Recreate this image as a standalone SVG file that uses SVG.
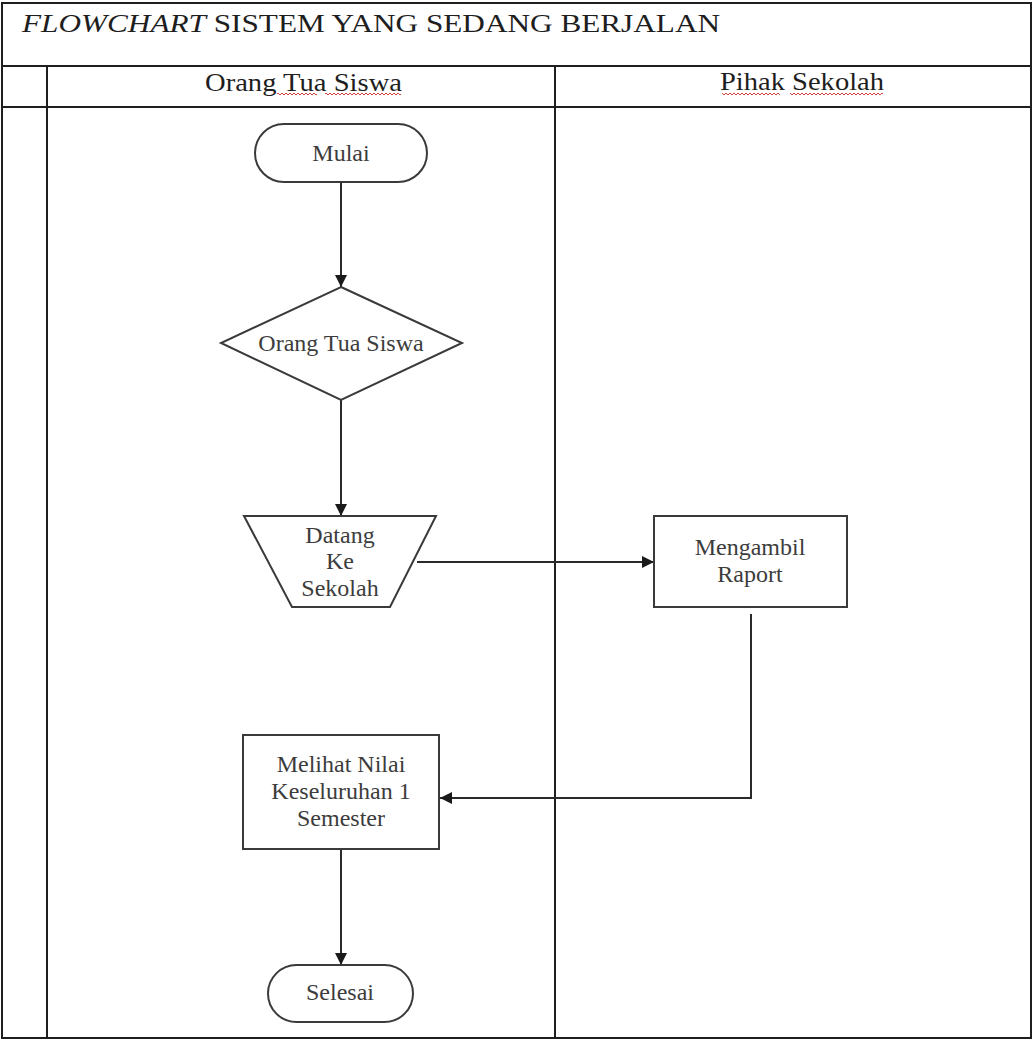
<svg xmlns="http://www.w3.org/2000/svg" width="1034" height="1041" viewBox="0 0 1034 1041">
  <style>
    .grid { stroke: #1e1e1e; stroke-width: 2; fill: none; }
    .shape { fill: #ffffff; stroke: #3a3a3a; stroke-width: 2; }
    .conn { fill: none; stroke: #2a2a2a; stroke-width: 2; }
    .hdr { font-family: "Liberation Serif", "Times New Roman", serif; font-size: 26px; fill: #1e1e1e; }
    .lbl { font-family: "Liberation Serif", "Times New Roman", serif; font-size: 24px; fill: #3c3c3c; text-anchor: middle; }
  </style>
  <defs>
    <marker id="arrow" viewBox="0 0 10 10" refX="10" refY="5" markerWidth="13" markerHeight="12" markerUnits="userSpaceOnUse" orient="auto">
      <path d="M0,0 L10,5 L0,10 Z" fill="#1a1a1a"/>
    </marker>
    <pattern id="squig" width="4" height="4" patternUnits="userSpaceOnUse">
      <path d="M0,3 L2,1 L4,3" fill="none" stroke="#d04040" stroke-width="1"/>
    </pattern>
  </defs>
  <rect x="0" y="0" width="1034" height="1041" fill="#ffffff"/>

  <g id="table">
    <rect class="grid" x="2" y="3" width="1029" height="1035"/>
    <line class="grid" x1="2" y1="66" x2="1031" y2="66"/>
    <line class="grid" x1="2" y1="107" x2="1031" y2="107"/>
    <line class="grid" x1="47" y1="66" x2="47" y2="1038"/>
    <line class="grid" x1="555" y1="66" x2="555" y2="1038"/>
    <text class="hdr" x="22" y="32" font-size="30" textLength="698" lengthAdjust="spacingAndGlyphs"><tspan font-style="italic">FLOWCHART</tspan> SISTEM YANG SEDANG BERJALAN</text>
    <text class="hdr" x="205" y="91" textLength="197" lengthAdjust="spacingAndGlyphs">Orang Tua Siswa</text>
    <text class="hdr" x="720" y="90" textLength="164" lengthAdjust="spacingAndGlyphs">Pihak Sekolah</text>
    <rect x="277" y="93" width="40" height="4" fill="url(#squig)"/>
    <rect x="325" y="93" width="76" height="4" fill="url(#squig)"/>
    <rect x="722" y="92" width="58" height="4" fill="url(#squig)"/>
    <rect x="790" y="92" width="93" height="4" fill="url(#squig)"/>
  </g>

  <g id="connectors">
    <line class="conn" x1="341" y1="182" x2="341" y2="287" marker-end="url(#arrow)"/>
    <line class="conn" x1="341" y1="400" x2="341" y2="516" marker-end="url(#arrow)"/>
    <line class="conn" x1="417" y1="562" x2="654" y2="562" marker-end="url(#arrow)"/>
    <polyline class="conn" points="751,614 751,798 440,798" marker-end="url(#arrow)"/>
    <line class="conn" x1="341" y1="849" x2="341" y2="965" marker-end="url(#arrow)"/>
  </g>

  <g id="node-mulai">
    <rect class="shape" x="255" y="124" width="172" height="58" rx="29" ry="29"/>
    <text class="lbl" x="341" y="161">Mulai</text>
  </g>

  <g id="node-orang-tua-siswa">
    <polygon class="shape" points="341,287 462,343 341,400 221,343"/>
    <text class="lbl" x="341" y="351">Orang Tua Siswa</text>
  </g>

  <g id="node-datang">
    <polygon class="shape" points="244,516 436,516 390,607 292,607"/>
    <text class="lbl" x="340" y="543">Datang</text>
    <text class="lbl" x="340" y="569">Ke</text>
    <text class="lbl" x="340" y="596">Sekolah</text>
  </g>

  <g id="node-mengambil">
    <rect class="shape" x="654" y="516" width="193" height="91"/>
    <text class="lbl" x="750" y="555">Mengambil</text>
    <text class="lbl" x="750" y="582">Raport</text>
  </g>

  <g id="node-melihat">
    <rect class="shape" x="243" y="735" width="196" height="114"/>
    <text class="lbl" x="341" y="772">Melihat Nilai</text>
    <text class="lbl" x="341" y="799">Keseluruhan 1</text>
    <text class="lbl" x="341" y="826">Semester</text>
  </g>

  <g id="node-selesai">
    <rect class="shape" x="268" y="965" width="145" height="57" rx="28.5" ry="28.5"/>
    <text class="lbl" x="340" y="1000">Selesai</text>
  </g>
</svg>
